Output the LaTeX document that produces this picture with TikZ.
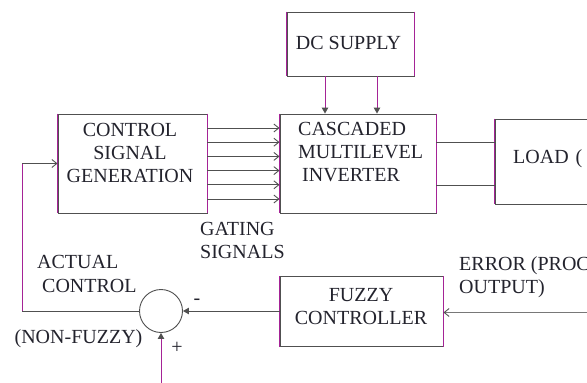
\documentclass[tikz,border=0pt]{standalone}
\usepackage{fontspec}
\setmainfont{Liberation Serif}
\usetikzlibrary{arrows.meta}
\definecolor{hl}{RGB}{80,80,80}
\definecolor{el}{RGB}{120,120,120}
\definecolor{vl}{RGB}{165,35,150}
\definecolor{tx}{RGB}{35,35,45}
\begin{document}
\begin{tikzpicture}[x=1pt,y=-1pt,
  box/.style={rectangle,inner sep=0pt,draw=hl,line width=0.9pt},
  hline/.style={draw=hl,line width=0.9pt},
  vline/.style={draw=vl,line width=1pt},
  errline/.style={draw=el,line width=0.9pt},
  openarr/.style={-{Straight Barb[length=5pt,width=8pt,color=hl]}},
  fillarr/.style={-{Triangle[length=6pt,width=6.5pt,color=hl]}},
  txt/.style={inner sep=0pt,text=tx,font=\fontsize{20}{23}\selectfont}]
\useasboundingbox (0,0) rectangle (587,383);
\clip (0,0) rectangle (587,383);
% boxes
\node[box,minimum width=149pt,minimum height=99pt] (csg) at (132.5,163.5) {};
\node[box,minimum width=156pt,minimum height=99pt] (cmi) at (358,163.5) {};
\node[box,minimum width=127pt,minimum height=64pt] (dc) at (350.5,44) {};
\node[box,minimum width=165pt,minimum height=85pt] (load) at (577.5,161.5) {};
\node[box,minimum width=163pt,minimum height=70pt] (fuzzy) at (361.5,311.5) {};
\node[circle,draw=hl,line width=0.9pt,minimum size=43pt,inner sep=0pt] (sum) at (161,311) {};
\foreach \n in {csg,cmi,dc,load,fuzzy}{
  \draw[vline] (\n.north west) -- (\n.south west) (\n.north east) -- (\n.south east);
}
% gating signals
\foreach \y in {128,142.2,156.4,170.6,184.8,199}{
  \draw[hline,openarr] (csg.east |- 0,\y) -- (cmi.west |- 0,\y);
}
% dc supply
\foreach \x in {325,377}{
  \draw[vline,fillarr] (dc.south -| \x,0) -- (cmi.north -| \x,0);
}
% load
\foreach \y in {142,185}{
  \draw[hline] (cmi.east |- 0,\y) -- (load.west |- 0,\y);
}
% feedback
\coordinate (fbb) at (22,311);
\coordinate (fbt) at (22,163.5);
\draw[hline] (sum.west) -- (fbb);
\draw[vline] (fbb) -- (fbt);
\draw[hline,openarr] (fbt) -- (csg.west);
\draw[hline,fillarr] (fuzzy.west |- sum.east) -- (sum.east);
\coordinate (err) at (592,312.5);
\draw[errline,openarr] (err) -- (err -| fuzzy.east);
\coordinate (pin) at (161,392);
\draw[vline,fillarr] (pin) -- (sum.south);
% texts
\node[txt,align=center] (tcsg) at (130,153) {CONTROL\\SIGNAL\\GENERATION};
\node[txt,align=left,anchor=west] (tcmi) at (298,152) {CASCADED\\MULTILEVEL\\\hspace{4pt}INVERTER};
\node[txt] (tdc) at (348.5,43) {DC SUPPLY};
\node[txt,anchor=west] (tload) at (513,158.5) {LOAD \hspace{2pt}(};
\node[txt,align=center] (tfz) at (361,307) {FUZZY\\CONTROLLER};
\node[txt,align=left,anchor=west] (tgate) at (200,240) {GATING\\SIGNALS};
\node[txt,anchor=west] (tact1) at (37,262) {ACTUAL};
\node[txt,anchor=west] (tact2) at (42,286) {CONTROL};
\node[txt] (tnf) at (78.5,339) {(NON-FUZZY)};
\node[txt,align=left,anchor=west] (terr) at (459,277.5) {ERROR (PROC\\OUTPUT)};
\node[txt] (tminus) at (197,302) {-};
\node[txt] (tplus) at (177,348) {+};
\end{tikzpicture}
\end{document}
